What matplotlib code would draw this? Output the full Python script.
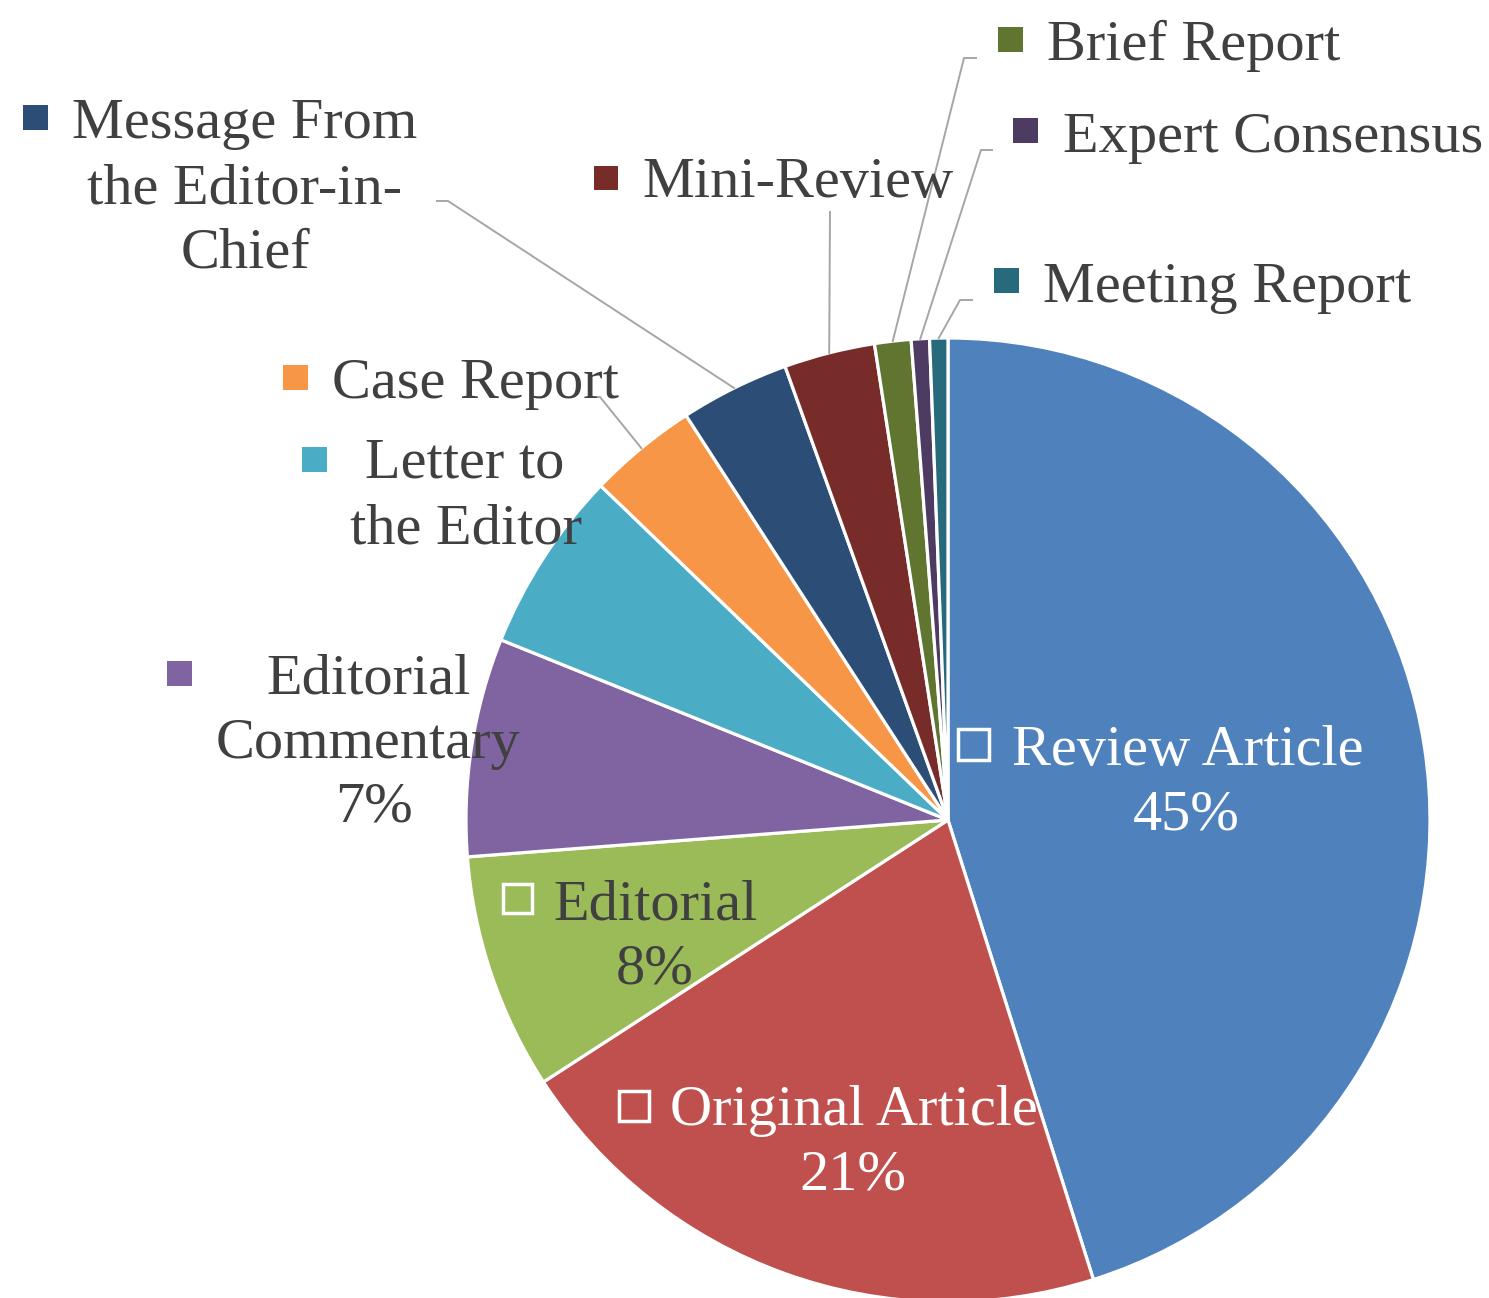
import numpy as np
import matplotlib
matplotlib.use("Agg")
import matplotlib.pyplot as plt
from matplotlib.patches import Rectangle

# article counts per type, clockwise from 12 o'clock
types = ["Review Article", "Original Article", "Editorial", "Editorial Commentary",
         "Letter to the Editor", "Case Report", "Message From the Editor-in-Chief",
         "Mini-Review", "Brief Report", "Expert Consensus", "Meeting Report"]
counts = [74, 34, 13, 12, 10, 6, 6, 5, 2, 1, 1]
colors = ["#4F81BD", "#C0504D", "#9BBB59", "#8064A2", "#4BACC6", "#F79646",
          "#2C4D75", "#772C2A", "#5F7530", "#4D3B62", "#276A7C"]

W, H = 1489, 1298
CX, CY, R = 948, 820, 482
TXT = "#404040"
FS = 42

def px(x, y):
    # pixel position -> data coords (pie centre 0,0 radius 1)
    return (x - CX) / R, (CY - y) / R

fig = plt.figure(figsize=(W / 100, H / 100), dpi=100)
ax = fig.add_axes([0, 0, 1, 1])
wedges, _ = ax.pie(counts, colors=colors, startangle=90, counterclock=False,
                   radius=1, center=(0, 0),
                   wedgeprops=dict(edgecolor="white", linewidth=2.3))
ax.set_xlim(-CX / R, (W - CX) / R)
ax.set_ylim(-(H - CY) / R, CY / R)
ax.set_aspect("auto")
ax.axis("off")

total = sum(counts)
pct = [f"{round(c / total * 100)}%" for c in counts]

def edge_pt(i):
    w = wedges[i]
    a = np.deg2rad((w.theta1 + w.theta2) / 2)
    return np.cos(a), np.sin(a)

def line(x, y, s, color=TXT, ha="left"):
    xx, yy = px(x, y)
    ax.text(xx, yy, s, fontsize=FS, family="Liberation Serif", color=color,
            ha=ha, va="baseline")

def key(x, y, size, i, hollow=False):
    xx, yy = px(x, y + size)
    if hollow:
        ax.add_patch(Rectangle((xx, yy), size / R, size / R, facecolor="none",
                               edgecolor="white", linewidth=2.5, zorder=5))
    else:
        ax.add_patch(Rectangle((xx, yy), size / R, size / R, facecolor=colors[i],
                               edgecolor="none", zorder=5))

def leader(i, pts):
    x0, y0 = edge_pt(i)
    xs = [px(*p)[0] for p in pts] + [x0]
    ys = [px(*p)[1] for p in pts] + [y0]
    ax.plot(xs, ys, color="#A6A6A6", linewidth=1.4, zorder=1)

# labels inside slices
key(958, 729, 31, 0, hollow=True)
line(1012, 765, types[0], color="white")
line(1186, 830, pct[0], color="white", ha="center")

key(619, 1091, 30, 1, hollow=True)
line(670, 1125, types[1], color="white")
line(853, 1190, pct[1], color="white", ha="center")

key(503, 884, 29, 2, hollow=True)
line(553, 920, types[2])
line(655, 983, pct[2], ha="center")

# labels outside
key(167, 661, 25, 3)
line(368, 693, "Editorial", ha="center")
line(368, 758, "Commentary", ha="center")
line(374, 822, pct[3], ha="center")

key(302, 447, 25, 4)
line(465, 478, "Letter to", ha="center")
line(466, 543, "the Editor", ha="center")

key(283, 365, 25, 5)
line(332, 398, types[5])
leader(5, [(590, 397), (600, 397)])

key(23, 105, 25, 6)
line(245, 138, "Message From", ha="center")
line(245, 203, "the Editor-in-", ha="center")
line(245, 267, "Chief", ha="center")
leader(6, [(437, 201), (448, 201)])

key(594, 166, 24, 7)
line(642, 197, types[7])
leader(7, [(830, 212)])

key(998, 27, 25, 8)
line(1047, 60, types[8])
leader(8, [(976, 58), (964, 58)])

key(1013, 118, 25, 9)
line(1063, 152, types[9])
leader(9, [(992, 150), (981, 150)])

key(994, 268, 25, 10)
line(1043, 302, types[10])
leader(10, [(972, 300), (960, 300)])

fig.savefig("out.png", dpi=100)
